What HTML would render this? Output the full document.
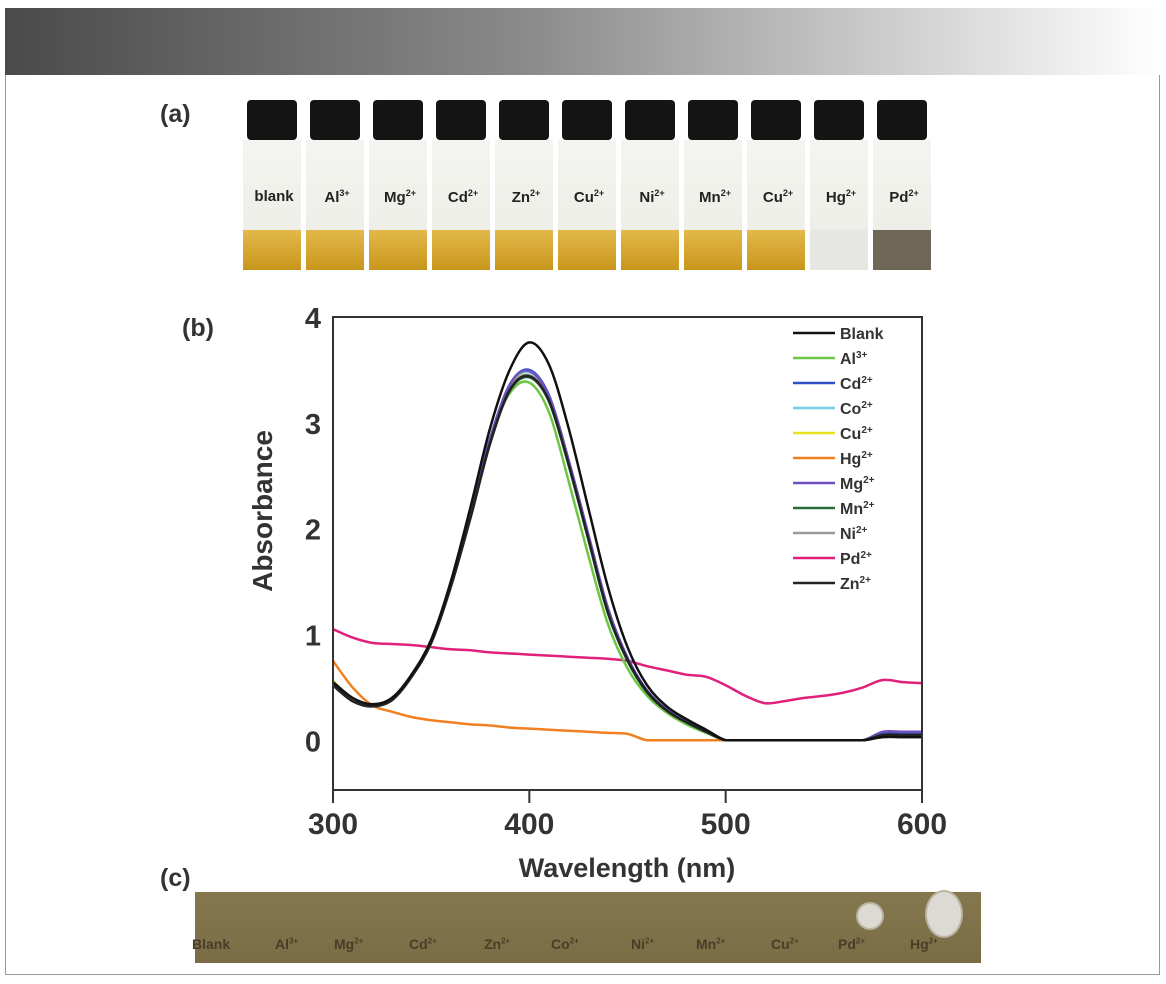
<!DOCTYPE html>
<html><head><meta charset="utf-8">
<style>
body{margin:0;width:1166px;height:984px;background:#fff;position:relative;overflow:hidden;font-family:"Liberation Sans",sans-serif}
.abs{position:absolute}
.lab{font-weight:bold;font-size:25px;color:#333}
.vial{position:absolute;top:100px;width:58px;height:170px}
.cap{position:absolute;left:4px;top:0;width:50px;height:40px;background:#141414;border-radius:4px}
.glass{position:absolute;left:0;top:40px;width:58px;height:130px;background:linear-gradient(#f4f4f0,#ecece6)}
.liq{position:absolute;left:0;bottom:0;width:58px;height:40px;background:linear-gradient(#e2b94a,#c9961c)}
.vt{position:absolute;left:0;width:62px;top:88px;text-align:center;font-weight:bold;font-size:15px;color:#222}
.ct{position:absolute;top:44px;font-weight:bold;font-size:14px;color:#4a3d28}
</style></head><body>
<div class="abs" style="left:5px;top:8px;width:1155px;height:67px;background:linear-gradient(90deg,#4a4a4a,#8a8a8a 45%,#fff)"></div>
<div class="abs" style="left:5px;top:75px;width:1153px;height:899px;border:1px solid #999;border-top:none"></div>

<div class="abs lab" style="left:160px;top:100px">(a)</div>
<div class="abs lab" style="left:182px;top:314px">(b)</div>
<div class="abs lab" style="left:160px;top:864px">(c)</div>

<div class="abs" style="left:233px;top:0;width:720px;height:280px" id="vials"></div>

<svg class="abs" style="left:0;top:0" width="1166" height="984" id="chart"></svg>

<div class="abs" style="left:195px;top:892px;width:786px;height:71px;background:linear-gradient(#85774d,#7a6c45);" id="strip">
</div>

<script>
const vialLabels=['blank','Al<sup>3+</sup>','Mg<sup>2+</sup>','Cd<sup>2+</sup>','Zn<sup>2+</sup>','Cu<sup>2+</sup>','Ni<sup>2+</sup>','Mn<sup>2+</sup>','Cu<sup>2+</sup>','Hg<sup>2+</sup>','Pd<sup>2+</sup>'];
const vc=document.getElementById('vials');
vialLabels.forEach((t,i)=>{
  const v=document.createElement('div');v.className='vial';v.style.left=(10+i*63)+'px';
  
  
  const liq=i===9?'background:#e6e6e2':i===10?'background:#6e6656':'';
  v.innerHTML='<div class="cap"></div><div class="glass"><div class="liq" style="'+liq+'"></div></div><div class="vt">'+t.replace(/<sup>/g,'<sup style="font-size:9px">')+'</div>';
  vc.appendChild(v);
});
const stripLabels=['Blank','Al<sup>3+</sup>','Mg<sup>2+</sup>','Cd<sup>2+</sup>','Zn<sup>2+</sup>','Co<sup>2+</sup>','Ni<sup>2+</sup>','Mn<sup>2+</sup>','Cu<sup>2+</sup>','Pd<sup>2+</sup>','Hg<sup>2+</sup>'];
const stripX=[206,289,348,423,498,565,645,710,785,852,924];
const st=document.getElementById('strip');
stripLabels.forEach((t,i)=>{
  const d=document.createElement('div');d.className='ct';d.style.left=(stripX[i]-195-14)+'px';
  
  
  d.innerHTML=t.replace(/<sup>/g,'<sup style="font-size:8px">');st.appendChild(d);
});
[[673,22,12,12],[747,20,17,22]].forEach(c=>{const d=document.createElement('div');
  
  
  d.style.cssText='position:absolute;left:'+(c[0]-c[2])+'px;top:'+(c[1]-c[3])+'px;width:'+2*c[2]+'px;height:'+2*c[3]+'px;border-radius:50%;background:#dcdad2;border:2px solid #b9b3a3';st.appendChild(d);});
</script>

<script>
const wavelengths=[300,310,320,330,340,350,360,370,380,390,400,410,420,430,440,450,460,470,480,490,500,510,520,530,540,550,560,570,580,590,600];
const seriesNames=['Blank','Al','Cd','Co','Cu','Hg','Mg','Mn','Ni','Pd','Zn'];
const seriesLabels=['Blank','Al<sup>3+</sup>','Cd<sup>2+</sup>','Co<sup>2+</sup>','Cu<sup>2+</sup>','Hg<sup>2+</sup>','Mg<sup>2+</sup>','Mn<sup>2+</sup>','Ni<sup>2+</sup>','Pd<sup>2+</sup>','Zn<sup>2+</sup>'];
const seriesColors=['#111','#6cc644','#3050c8','#6fd0e0','#e8e020','#f08020','#7050c0','#2a6a3a','#999','#e0207a','#222'];
const blankVals=[0.55,0.40,0.34,0.40,0.62,0.95,1.50,2.20,2.95,3.50,3.76,3.55,2.95,2.20,1.45,0.88,0.52,0.32,0.20,0.10,0,0,0,0,0,0,0,0,0.03,0.03,0.03];
const alVals=[0.52,0.38,0.33,0.39,0.62,0.95,1.48,2.15,2.85,3.28,3.38,3.10,2.45,1.75,1.10,0.68,0.42,0.26,0.15,0.07,0,0,0,0,0,0,0,0,0.04,0.04,0.04];
const cdVals=[0.52,0.37,0.33,0.38,0.60,0.93,1.46,2.12,2.85,3.36,3.50,3.26,2.65,1.95,1.25,0.78,0.47,0.29,0.18,0.09,0,0,0,0,0,0,0,0,0.07,0.07,0.07];
const coVals=[0.53,0.38,0.33,0.38,0.60,0.93,1.46,2.12,2.84,3.35,3.48,3.24,2.63,1.93,1.23,0.77,0.46,0.29,0.17,0.08,0,0,0,0,0,0,0,0,0.05,0.05,0.05];
const cuVals=[0.56,0.39,0.33,0.38,0.60,0.92,1.45,2.10,2.82,3.33,3.45,3.21,2.61,1.91,1.21,0.76,0.46,0.28,0.17,0.08,0,0,0,0,0,0,0,0,0.05,0.05,0.05];
const hgVals=[0.75,0.50,0.33,0.27,0.22,0.19,0.17,0.15,0.14,0.12,0.11,0.10,0.09,0.08,0.07,0.06,0,0,0,0,0,0,0,0,0,0,0,0,0.03,0.03,0.03];
const mgVals=[0.52,0.37,0.33,0.38,0.60,0.93,1.46,2.12,2.85,3.36,3.49,3.25,2.64,1.94,1.24,0.78,0.47,0.29,0.18,0.09,0,0,0,0,0,0,0,0,0.08,0.08,0.08];
const mnVals=[0.52,0.37,0.32,0.38,0.60,0.92,1.45,2.10,2.80,3.30,3.43,3.20,2.60,1.90,1.20,0.75,0.45,0.28,0.17,0.08,0,0,0,0,0,0,0,0,0.05,0.05,0.05];
const niVals=[0.52,0.37,0.33,0.38,0.60,0.92,1.45,2.11,2.82,3.32,3.45,3.22,2.62,1.92,1.22,0.76,0.46,0.28,0.17,0.08,0,0,0,0,0,0,0,0,0.05,0.05,0.05];
const pdVals=[1.05,0.97,0.92,0.91,0.90,0.88,0.86,0.85,0.83,0.82,0.81,0.80,0.79,0.78,0.77,0.75,0.70,0.66,0.62,0.60,0.52,0.42,0.35,0.37,0.40,0.42,0.45,0.50,0.57,0.55,0.54];
const znVals=[0.52,0.37,0.32,0.38,0.60,0.92,1.45,2.10,2.81,3.31,3.44,3.21,2.61,1.91,1.21,0.76,0.46,0.28,0.17,0.08,0,0,0,0,0,0,0,0,0.05,0.05,0.05];
const seriesVals=[blankVals,alVals,cdVals,coVals,cuVals,hgVals,mgVals,mnVals,niVals,pdVals,znVals];
const xTicks=[300,400,500,600];
const yTicks=[0,1,2,3,4];

const L=333,R=922,T=317,B=790,xMin=300,xMax=600,yMin=-0.47,yMax=4;
const xs=v=>L+(v-xMin)/(xMax-xMin)*(R-L);
const ys=v=>B-(v-yMin)/(yMax-yMin)*(B-T);
const svg=document.getElementById('chart');const NS='http://www.w3.org/2000/svg';
function mk(tag,attrs){const e=document.createElementNS(NS,tag);for(const k in attrs)e.setAttribute(k,attrs[k]);svg.appendChild(e);return e;}
function smooth(pts){
  const y0=ys(0);
  let d='M'+pts[0][0].toFixed(1)+','+pts[0][1].toFixed(1);
  for(let i=0;i<pts.length-1;i++){
    const p0=pts[i-1]||pts[i],p1=pts[i],p2=pts[i+1],p3=pts[i+2]||p2;
    const c1y=Math.min(p1[1]+(p2[1]-p0[1])/6,y0),c2y=Math.min(p2[1]-(p3[1]-p1[1])/6,y0);
    d+=' C'+(p1[0]+(p2[0]-p0[0])/6).toFixed(1)+','+c1y.toFixed(1)+' '+(p2[0]-(p3[0]-p1[0])/6).toFixed(1)+','+c2y.toFixed(1)+' '+p2[0].toFixed(1)+','+p2[1].toFixed(1);
  }
  return d;
}
const order=[9,5,1,3,4,8,2,6,7,10,0];
order.forEach(i=>{
  const pts=wavelengths.map((w,j)=>[xs(w),Math.min(ys(seriesVals[i][j]),ys(0))]);
  const p=mk('path',{d:smooth(pts),fill:'none',stroke:seriesColors[i],'stroke-width':2.5,'stroke-linejoin':'round'});
  
  
});
const fr=mk('rect',{x:L,y:T,width:R-L,height:B-T,fill:'none',stroke:'#333','stroke-width':2});


xTicks.forEach(v=>{
  const tk=mk('line',{x1:xs(v),x2:xs(v),y1:B,y2:B+13,stroke:'#333','stroke-width':2});
  
  
  const t=mk('text',{x:xs(v),y:834,'text-anchor':'middle','font-size':30,'font-weight':'bold',fill:'#333','font-family':'Liberation Sans'});t.textContent=v;
  
  
});
yTicks.forEach(v=>{
  const t=mk('text',{x:321,y:ys(v)+11,'text-anchor':'end','font-size':29,'font-weight':'bold',fill:'#333','font-family':'Liberation Sans'});t.textContent=v;
  
  
});
const xt=mk('text',{x:627,y:877,'text-anchor':'middle','font-size':27,'font-weight':'bold',fill:'#333','font-family':'Liberation Sans'});xt.textContent='Wavelength (nm)';


const yt=mk('text',{x:0,y:0,transform:'translate(272,511) rotate(-90)','text-anchor':'middle','font-size':28,'font-weight':'bold',fill:'#333','font-family':'Liberation Sans'});yt.textContent='Absorbance';


seriesNames.forEach((n,i)=>{
  const y=333+i*25;
  const ln=mk('line',{x1:793,x2:835,y1:y,y2:y,stroke:seriesColors[i],'stroke-width':2.5});
  
  
  const t=mk('text',{x:840,y:y+6,'font-size':16,'font-weight':'bold',fill:'#333','font-family':'Liberation Sans'});
  t.textContent=seriesLabels[i].replace(/<sup>.*<\/sup>/,'');
  if(i>0){const s=document.createElementNS(NS,'tspan');s.setAttribute('font-size',10);s.setAttribute('dy',-6);s.textContent=seriesLabels[i].match(/<sup>(.*)<\/sup>/)[1];t.appendChild(s);}
  
  
});
</script>
</body></html>
